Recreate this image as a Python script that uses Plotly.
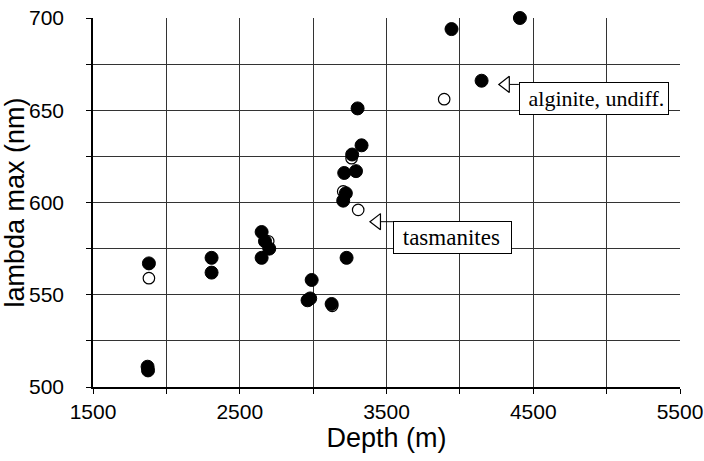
import plotly.graph_objects as go

# ---- data ----
filled_depth = [4409, 3943, 4148, 3303, 3330, 3266, 3292, 3212, 3223, 3205,
                2649, 2672, 2701, 2649, 3228, 1881, 2308, 2308, 2990, 2962,
                2980, 3126, 1872, 1875]
filled_lambda = [700, 694, 666, 651, 631, 626, 617, 616, 605, 601,
                 584, 579, 575, 570, 570, 567, 570, 562, 558, 547,
                 548, 545, 511, 509]

open_depth = [3893, 3262, 3205, 3307, 2694, 1881, 3130]
open_lambda = [656, 624, 606, 596, 579, 559, 544]

x_ticks = [1500, 2500, 3500, 4500, 5500]
y_ticks = [500, 550, 600, 650, 700]

labels = ["alginite, undiff.", "tasmanites"]
label_size = [22, 23]
label_width = [142, 111]            # text area width of each box (px)
label_box_x = [4402, 3544]          # left edge of label box (data units)
label_box_y = [665.2, 589.8]        # top edge of label box
arrow_x = [4313, 3435]              # centre of open arrow head
arrow_y = [664.0, 589.6]
link_x0 = [4341, 3462]

SANS = "Liberation Sans, Arial, sans-serif"
SERIF = "Liberation Serif, Times New Roman, serif"

fig = go.Figure()

fig.add_trace(go.Scatter(
    x=open_depth, y=open_lambda, mode="markers", cliponaxis=False,
    marker=dict(symbol="circle", size=11.5, color="white",
                line=dict(color="black", width=1.2)),
    showlegend=False, hoverinfo="x+y"))

fig.add_trace(go.Scatter(
    x=filled_depth, y=filled_lambda, mode="markers", cliponaxis=False,
    marker=dict(symbol="circle", size=13, color="black",
                line=dict(color="black", width=1)),
    showlegend=False, hoverinfo="x+y"))

# arrow heads (open triangles)
fig.add_trace(go.Scatter(
    x=arrow_x, y=arrow_y, mode="markers",
    marker=dict(symbol="triangle-left-open", size=14, color="black",
                line=dict(color="black", width=1.2)),
    showlegend=False, hoverinfo="skip"))

for i, t in enumerate(labels):
    fig.add_shape(type="line", x0=link_x0[i], x1=label_box_x[i],
                  y0=arrow_y[i], y1=arrow_y[i],
                  line=dict(color="black", width=1))
    fig.add_annotation(
        x=label_box_x[i], y=label_box_y[i], xref="x", yref="y",
        xanchor="left", yanchor="top", showarrow=False,
        text=" " + t, align="left", width=label_width[i],
        font=dict(family=SERIF, size=label_size[i], color="black"),
        bgcolor="white", bordercolor="black", borderwidth=1, borderpad=3)

grid = "#333333"
fig.update_xaxes(
    range=[1500, 5500], tickmode="array", tickvals=x_ticks,
    ticktext=[str(v) for v in x_ticks],
    showgrid=True, gridcolor=grid, gridwidth=1,
    minor=dict(dtick=500, tick0=1500, showgrid=True, gridcolor=grid,
               gridwidth=1, ticks="outside", ticklen=5, tickcolor="black"),
    ticks="outside", ticklen=5, tickcolor="black",
    showline=True, linecolor="black", linewidth=1.5, mirror=False,
    zeroline=False, automargin=False,
    tickfont=dict(family=SANS, size=21, color="black"),
    ticklabelstandoff=0,
    title=dict(text="Depth (m)", font=dict(family=SANS, size=27, color="black"),
               standoff=6))
fig.update_yaxes(
    range=[500, 700], tickmode="array", tickvals=y_ticks,
    ticktext=[str(v) for v in y_ticks],
    showgrid=True, gridcolor=grid, gridwidth=1,
    minor=dict(dtick=25, tick0=500, showgrid=True, gridcolor=grid,
               gridwidth=1, ticks="outside", ticklen=5, tickcolor="black"),
    ticks="outside", ticklen=5, tickcolor="black",
    showline=True, linecolor="black", linewidth=1.5, mirror=False,
    zeroline=False, automargin=False,
    tickfont=dict(family=SANS, size=21, color="black"),
    ticklabelstandoff=18,
    title=dict(text="lambda max (nm)", font=dict(family=SANS, size=27, color="black"),
               standoff=6))

fig.update_layout(
    width=704, height=461,
    margin=dict(l=93, r=24, t=18, b=74, autoexpand=False),
    paper_bgcolor="white", plot_bgcolor="white",
    showlegend=False)

fig.write_html("out.html", config={"displayModeBar": False},
               post_script="document.body.style.margin='0';"
                           "document.body.style.padding='0';")
